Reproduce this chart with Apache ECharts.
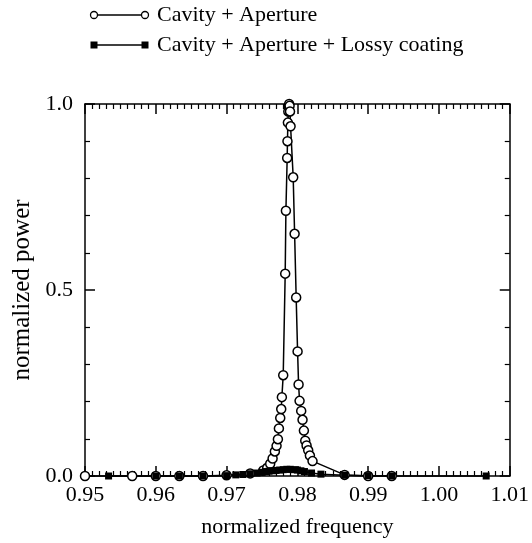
<!DOCTYPE html>
<html>
<head>
<meta charset="utf-8">
<script src="https://cdn.jsdelivr.net/npm/echarts@6/dist/echarts.min.js"></script>
<style>html,body{margin:0;padding:0;background:#fff;}#c{width:532px;height:543px;}</style>
</head>
<body>
<div id="c"></div>
<script>
// Series 1: Cavity + Aperture (open circles)
const freqA = [0.95, 0.95667, 0.96, 0.96333, 0.96667, 0.97, 0.97333, 0.97518, 0.97574, 0.97616, 0.9765, 0.97682, 0.97706, 0.97725, 0.97739, 0.97758, 0.97772, 0.97781, 0.978, 0.97828, 0.97838, 0.97856, 0.9786, 0.97866, 0.97872, 0.97878, 0.97884, 0.9789, 0.97896, 0.97904, 0.97941, 0.97961, 0.97983, 0.98003, 0.98017, 0.98031, 0.98054, 0.98073, 0.98092, 0.98111, 0.9813, 0.98153, 0.98177, 0.98214, 0.98667, 0.99, 0.99333];
const powerA = [0, 0, 0, 0, 0, 0.002, 0.007, 0.015, 0.022, 0.033, 0.047, 0.066, 0.081, 0.099, 0.128, 0.156, 0.18, 0.212, 0.271, 0.544, 0.713, 0.855, 0.9, 0.95, 0.98, 0.995, 1.0, 0.995, 0.98, 0.94, 0.803, 0.651, 0.48, 0.335, 0.246, 0.202, 0.175, 0.151, 0.122, 0.095, 0.082, 0.069, 0.055, 0.04, 0.003, 0, 0];
// Series 2: Cavity + Aperture + Lossy coating (filled squares)
const freqB = [0.95333, 0.96, 0.96333, 0.96667, 0.97, 0.9713, 0.9723, 0.97333, 0.9743, 0.975, 0.9755, 0.976, 0.9765, 0.977, 0.9775, 0.978, 0.9785, 0.979, 0.9795, 0.98, 0.9805, 0.981, 0.982, 0.98333, 0.98667, 0.99, 0.99333, 1.00667];
const powerB = [0, 0, 0, 0, 0.001, 0.003, 0.004, 0.006, 0.008, 0.01, 0.012, 0.013, 0.014, 0.015, 0.016, 0.017, 0.018, 0.018, 0.017, 0.016, 0.014, 0.012, 0.008, 0.005, 0.002, 0.001, 0, 0];
const seriesNames = ['Cavity + Aperture', 'Cavity + Aperture + Lossy coating'];
const xTicks = [0.95, 0.96, 0.97, 0.98, 0.99, 1.00, 1.01];
const yTicks = [0.0, 0.5, 1.0];

const FONT = 'Liberation Serif';
const chart = echarts.init(document.getElementById('c'), null, {renderer: 'canvas'});
const zip = (a, b) => a.map((v, i) => [v, b[i]]);

const baseX = {
  type: 'value', min: xTicks[0], max: xTicks[xTicks.length - 1], interval: 0.01,
  axisLine: {show: true, onZero: false, lineStyle: {color: '#000', width: 1.5}},
  axisTick: {show: true, inside: true, length: 10, lineStyle: {color: '#000', width: 1.5}},
  minorTick: {show: true, splitNumber: 10, length: 5, lineStyle: {color: '#000', width: 1.2}},
  splitLine: {show: false}
};
const baseY = {
  type: 'value', min: yTicks[0], max: yTicks[yTicks.length - 1], interval: 0.5,
  axisLine: {show: true, onZero: false, lineStyle: {color: '#000', width: 1.5}},
  axisTick: {show: true, inside: true, length: 10, lineStyle: {color: '#000', width: 1.5}},
  minorTick: {show: true, splitNumber: 5, length: 5, lineStyle: {color: '#000', width: 1.2}},
  splitLine: {show: false}
};

chart.setOption({
  animation: false,
  backgroundColor: '#fff',
  grid: {left: 85, right: 22, top: 104, bottom: 64},
  xAxis: [
    Object.assign({}, baseX, {
      position: 'bottom',
      name: 'normalized frequency', nameLocation: 'middle', nameGap: 40,
      nameTextStyle: {fontFamily: FONT, fontSize: 22, color: '#000'},
      axisLabel: {fontFamily: FONT, fontSize: 22, color: '#000', margin: 8,
        formatter: v => v.toFixed(2)}
    }),
    Object.assign({}, baseX, {position: 'top', axisLabel: {show: false}})
  ],
  yAxis: [
    Object.assign({}, baseY, {
      position: 'left',
      name: 'normalized power', nameLocation: 'middle', nameGap: 42,
      nameTextStyle: {fontFamily: FONT, fontSize: 25, color: '#000'},
      axisLabel: {fontFamily: FONT, fontSize: 22, color: '#000', margin: 12,
        formatter: v => v.toFixed(1)}
    }),
    Object.assign({}, baseY, {position: 'right', axisLabel: {show: false}})
  ],
  series: [
    {
      name: seriesNames[0], type: 'line', data: zip(freqA, powerA),
      symbol: 'circle', symbolSize: 9, clip: false,
      lineStyle: {color: '#000', width: 1.5},
      itemStyle: {color: '#fff', borderColor: '#000', borderWidth: 1.5}
    },
    {
      name: seriesNames[1], type: 'line', data: zip(freqB, powerB),
      symbol: 'rect', symbolSize: 7, clip: false,
      lineStyle: {color: '#000', width: 1.5},
      itemStyle: {color: '#000', borderColor: '#000', borderWidth: 0}
    }
  ],
  graphic: [
    {type: 'line', shape: {x1: 94, y1: 15, x2: 145, y2: 15}, style: {stroke: '#000', lineWidth: 1.5}},
    {type: 'circle', shape: {cx: 94, cy: 15, r: 3.5}, style: {fill: '#fff', stroke: '#000', lineWidth: 1.3}},
    {type: 'circle', shape: {cx: 145, cy: 15, r: 3.5}, style: {fill: '#fff', stroke: '#000', lineWidth: 1.3}},
    {type: 'text', x: 157, y: 15, style: {text: seriesNames[0], font: '22px "Liberation Serif"', fill: '#000', verticalAlign: 'middle'}},
    {type: 'line', shape: {x1: 94, y1: 45, x2: 145, y2: 45}, style: {stroke: '#000', lineWidth: 1.5}},
    {type: 'rect', shape: {x: 90.5, y: 41.5, width: 7, height: 7}, style: {fill: '#000'}},
    {type: 'rect', shape: {x: 141.5, y: 41.5, width: 7, height: 7}, style: {fill: '#000'}},
    {type: 'text', x: 157, y: 45, style: {text: seriesNames[1], font: '22px "Liberation Serif"', fill: '#000', verticalAlign: 'middle'}}
  ]
});
</script>
</body>
</html>
